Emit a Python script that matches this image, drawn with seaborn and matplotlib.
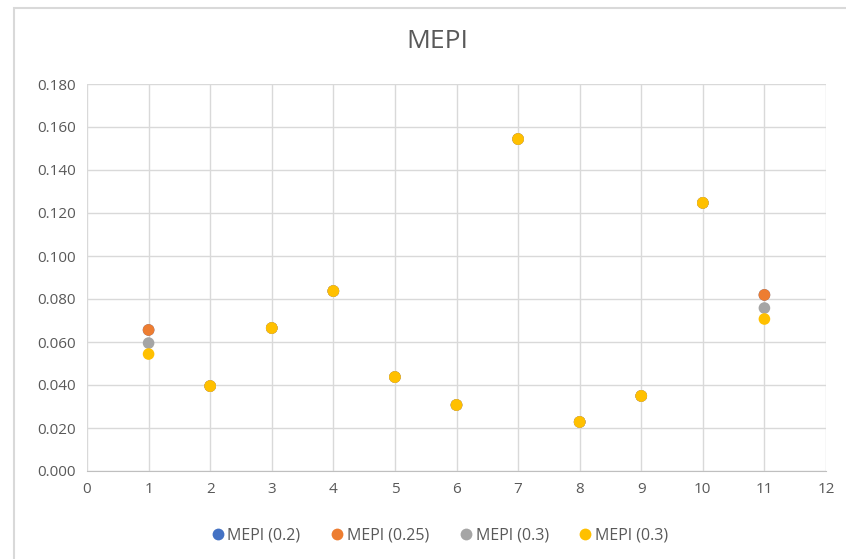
import pandas as pd
import matplotlib
matplotlib.use('Agg')
import matplotlib.pyplot as plt
import seaborn as sns
from matplotlib.patches import Rectangle

# Data
x_vals = [1, 2, 3, 4, 5, 6, 7, 8, 9, 10, 11]
mepi_02 = [0.0656, 0.0395, 0.0665, 0.0837, 0.0437, 0.0307, 0.1544, 0.0228, 0.0349, 0.1247, 0.0819]
mepi_025 = [0.0656, 0.0395, 0.0665, 0.0837, 0.0437, 0.0307, 0.1544, 0.0228, 0.0349, 0.1247, 0.0819]
mepi_03a = [0.0595, 0.0395, 0.0665, 0.0837, 0.0437, 0.0307, 0.1544, 0.0228, 0.0349, 0.1247, 0.0758]
mepi_03b = [0.0544, 0.0395, 0.0665, 0.0837, 0.0437, 0.0307, 0.1544, 0.0228, 0.0349, 0.1247, 0.0707]

series_names = ['MEPI (0.2)', 'MEPI (0.25)', 'MEPI (0.3)', 'MEPI (0.3) ']
series_colors = ['#4472C4', '#ED7D31', '#A5A5A5', '#FFC000']
x_ticks = list(range(0, 13))
y_ticks = [0.0, 0.02, 0.04, 0.06, 0.08, 0.10, 0.12, 0.14, 0.16, 0.18]

frames = []
for name, vals in zip(series_names, [mepi_02, mepi_025, mepi_03a, mepi_03b]):
    frames.append(pd.DataFrame({'x': x_vals, 'y': vals, 'series': name}))
df = pd.concat(frames, ignore_index=True)

sns.set_style('white')
plt.rcParams['font.family'] = ['Open Sans', 'DejaVu Sans']
text_color = '#595959'
grid_color = '#D9D9D9'

fig = plt.figure(figsize=(8.46, 5.59), dpi=100)
ax = fig.add_axes([87 / 846, 1 - 471 / 559, (826 - 87) / 846, (471 - 84) / 559])

# chart border (partly cut off in the original)
fig.patches.append(Rectangle((14 / 846, -0.05), 1.0, 1 - 8 / 559 + 0.05,
                             transform=fig.transFigure, fill=False,
                             edgecolor='#D9D9D9', linewidth=1.5))

sns.scatterplot(data=df, x='x', y='y', hue='series', palette=series_colors,
                s=70, linewidth=0, edgecolor='none', ax=ax, legend=False, zorder=3)

ax.set_xlim(0, 12)
ax.set_ylim(0, 0.18)
ax.set_xticks(x_ticks)
ax.set_yticks(y_ticks)
ax.set_yticklabels([f'{v:.3f}' for v in y_ticks])
ax.grid(True, color=grid_color, linewidth=1)
ax.set_axisbelow(True)
for side in ['left', 'right', 'top']:
    ax.spines[side].set_visible(False)
ax.spines['bottom'].set_color('#BFBFBF')
ax.tick_params(axis='both', length=0, labelsize=11, colors=text_color, pad=8)
ax.set_xlabel('')
ax.set_ylabel('')

fig.text(437 / 846, 1 - 42 / 559, 'MEPI', ha='center', va='center',
         fontsize=19, color=text_color)

handles = [plt.Line2D([], [], marker='o', linestyle='', markersize=8.5,
                      markerfacecolor=c, markeredgewidth=0) for c in series_colors]
fig.legend(handles, [n.strip() for n in series_names], loc='center',
           bbox_to_anchor=(439 / 846, 1 - 536 / 559), ncol=4, frameon=False,
           fontsize=11.5, labelcolor=text_color, handletextpad=0.1,
           columnspacing=1.8, handlelength=1.0)

fig.savefig('out.png', dpi=100)
